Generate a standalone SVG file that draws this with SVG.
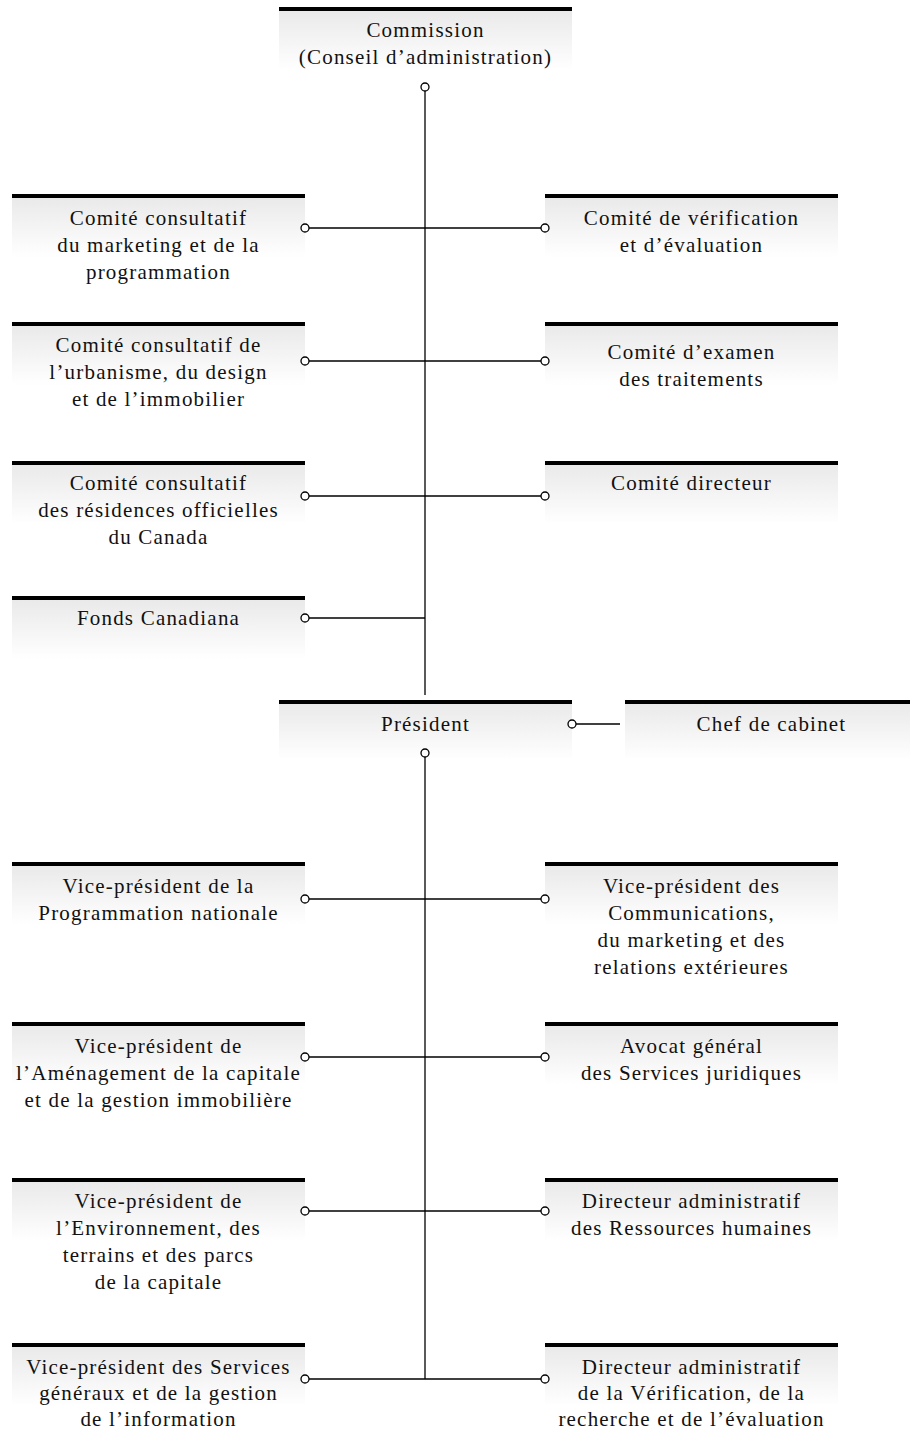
<svg xmlns="http://www.w3.org/2000/svg" width="910" height="1429" viewBox="0 0 910 1429">
<style>
.box{fill:url(#g)}
.bar{fill:#000}
.t{font-family:"Liberation Serif","Times New Roman",serif;font-size:21px;letter-spacing:1.2px;fill:#111;text-anchor:middle}
.ln{stroke:#000;stroke-width:1.3;fill:none}
.c{fill:#fff;stroke:#000;stroke-width:1.3}
</style>
<defs>
<linearGradient id="g" x1="0" y1="0" x2="0" y2="1">
<stop offset="0" stop-color="#e8e8e8"/>
<stop offset="1" stop-color="#ffffff"/>
</linearGradient>
</defs>
<rect width="910" height="1429" fill="#fff"/>

<g id="commission">
<rect class="box" x="279" y="7" width="293" height="63"/>
<rect class="bar" x="279" y="7" width="293" height="4"/>
<text class="t" x="425.5" y="37">Commission</text>
<text class="t" x="425.5" y="64">(Conseil d’administration)</text>
</g>

<g id="comite-marketing">
<rect class="box" x="12" y="194" width="293" height="63"/>
<rect class="bar" x="12" y="194" width="293" height="4"/>
<text class="t" x="158.5" y="225">Comité consultatif</text>
<text class="t" x="158.5" y="252">du marketing et de la</text>
<text class="t" x="158.5" y="279">programmation</text>
</g>

<g id="comite-verification">
<rect class="box" x="545" y="194" width="293" height="63"/>
<rect class="bar" x="545" y="194" width="293" height="4"/>
<text class="t" x="691.5" y="225">Comité de vérification</text>
<text class="t" x="691.5" y="252">et d’évaluation</text>
</g>

<g id="comite-urbanisme">
<rect class="box" x="12" y="322" width="293" height="63"/>
<rect class="bar" x="12" y="322" width="293" height="4"/>
<text class="t" x="158.5" y="352">Comité consultatif de</text>
<text class="t" x="158.5" y="379">l’urbanisme, du design</text>
<text class="t" x="158.5" y="406">et de l’immobilier</text>
</g>

<g id="comite-examen">
<rect class="box" x="545" y="322" width="293" height="63"/>
<rect class="bar" x="545" y="322" width="293" height="4"/>
<text class="t" x="691.5" y="359">Comité d’examen</text>
<text class="t" x="691.5" y="386">des traitements</text>
</g>

<g id="comite-residences">
<rect class="box" x="12" y="461" width="293" height="63"/>
<rect class="bar" x="12" y="461" width="293" height="4"/>
<text class="t" x="158.5" y="490">Comité consultatif</text>
<text class="t" x="158.5" y="517">des résidences officielles</text>
<text class="t" x="158.5" y="544">du Canada</text>
</g>

<g id="comite-directeur">
<rect class="box" x="545" y="461" width="293" height="63"/>
<rect class="bar" x="545" y="461" width="293" height="4"/>
<text class="t" x="691.5" y="490">Comité directeur</text>
</g>

<g id="fonds-canadiana">
<rect class="box" x="12" y="596" width="293" height="63"/>
<rect class="bar" x="12" y="596" width="293" height="4"/>
<text class="t" x="158.5" y="625">Fonds Canadiana</text>
</g>

<g id="president">
<rect class="box" x="279" y="700" width="293" height="60"/>
<rect class="bar" x="279" y="700" width="293" height="4"/>
<text class="t" x="425.5" y="731">Président</text>
</g>

<g id="chef-cabinet">
<rect class="box" x="625" y="700" width="293" height="60"/>
<rect class="bar" x="625" y="700" width="293" height="4"/>
<text class="t" x="771.5" y="731">Chef de cabinet</text>
</g>

<g id="vp-programmation">
<rect class="box" x="12" y="862" width="293" height="63"/>
<rect class="bar" x="12" y="862" width="293" height="4"/>
<text class="t" x="158.5" y="893">Vice-président de la</text>
<text class="t" x="158.5" y="920">Programmation nationale</text>
</g>

<g id="vp-communications">
<rect class="box" x="545" y="862" width="293" height="63"/>
<rect class="bar" x="545" y="862" width="293" height="4"/>
<text class="t" x="691.5" y="893">Vice-président des</text>
<text class="t" x="691.5" y="920">Communications,</text>
<text class="t" x="691.5" y="947">du marketing et des</text>
<text class="t" x="691.5" y="974">relations extérieures</text>
</g>

<g id="vp-amenagement">
<rect class="box" x="12" y="1022" width="293" height="63"/>
<rect class="bar" x="12" y="1022" width="293" height="4"/>
<text class="t" x="158.5" y="1053">Vice-président de</text>
<text class="t" x="158.5" y="1080">l’Aménagement de la capitale</text>
<text class="t" x="158.5" y="1107">et de la gestion immobilière</text>
</g>

<g id="avocat-general">
<rect class="box" x="545" y="1022" width="293" height="63"/>
<rect class="bar" x="545" y="1022" width="293" height="4"/>
<text class="t" x="691.5" y="1053">Avocat général</text>
<text class="t" x="691.5" y="1080">des Services juridiques</text>
</g>

<g id="vp-environnement">
<rect class="box" x="12" y="1178" width="293" height="63"/>
<rect class="bar" x="12" y="1178" width="293" height="4"/>
<text class="t" x="158.5" y="1208">Vice-président de</text>
<text class="t" x="158.5" y="1235">l’Environnement, des</text>
<text class="t" x="158.5" y="1262">terrains et des parcs</text>
<text class="t" x="158.5" y="1289">de la capitale</text>
</g>

<g id="da-ressources-humaines">
<rect class="box" x="545" y="1178" width="293" height="63"/>
<rect class="bar" x="545" y="1178" width="293" height="4"/>
<text class="t" x="691.5" y="1208">Directeur administratif</text>
<text class="t" x="691.5" y="1235">des Ressources humaines</text>
</g>

<g id="vp-services-generaux">
<rect class="box" x="12" y="1343" width="293" height="63"/>
<rect class="bar" x="12" y="1343" width="293" height="4"/>
<text class="t" x="158.5" y="1374">Vice-président des Services</text>
<text class="t" x="158.5" y="1400">généraux et de la gestion</text>
<text class="t" x="158.5" y="1426">de l’information</text>
</g>

<g id="da-verification">
<rect class="box" x="545" y="1343" width="293" height="63"/>
<rect class="bar" x="545" y="1343" width="293" height="4"/>
<text class="t" x="691.5" y="1374">Directeur administratif</text>
<text class="t" x="691.5" y="1400">de la Vérification, de la</text>
<text class="t" x="691.5" y="1426">recherche et de l’évaluation</text>
</g>

<g id="connectors">
<line class="ln" x1="425" y1="91" x2="425" y2="695"/>
<line class="ln" x1="309" y1="228" x2="541" y2="228"/>
<line class="ln" x1="309" y1="361" x2="541" y2="361"/>
<line class="ln" x1="309" y1="496" x2="541" y2="496"/>
<line class="ln" x1="309" y1="618" x2="425" y2="618"/>
<line class="ln" x1="576" y1="724" x2="620" y2="724"/>
<line class="ln" x1="425" y1="757" x2="425" y2="1379"/>
<line class="ln" x1="309" y1="899" x2="541" y2="899"/>
<line class="ln" x1="309" y1="1057" x2="541" y2="1057"/>
<line class="ln" x1="309" y1="1211" x2="541" y2="1211"/>
<line class="ln" x1="309" y1="1379" x2="541" y2="1379"/>
<circle class="c" cx="425" cy="87" r="4"/>
<circle class="c" cx="305" cy="228" r="4"/>
<circle class="c" cx="545" cy="228" r="4"/>
<circle class="c" cx="305" cy="361" r="4"/>
<circle class="c" cx="545" cy="361" r="4"/>
<circle class="c" cx="305" cy="496" r="4"/>
<circle class="c" cx="545" cy="496" r="4"/>
<circle class="c" cx="305" cy="618" r="4"/>
<circle class="c" cx="572" cy="724" r="4"/>
<circle class="c" cx="425" cy="753" r="4"/>
<circle class="c" cx="305" cy="899" r="4"/>
<circle class="c" cx="545" cy="899" r="4"/>
<circle class="c" cx="305" cy="1057" r="4"/>
<circle class="c" cx="545" cy="1057" r="4"/>
<circle class="c" cx="305" cy="1211" r="4"/>
<circle class="c" cx="545" cy="1211" r="4"/>
<circle class="c" cx="305" cy="1379" r="4"/>
<circle class="c" cx="545" cy="1379" r="4"/>
</g>
</svg>
